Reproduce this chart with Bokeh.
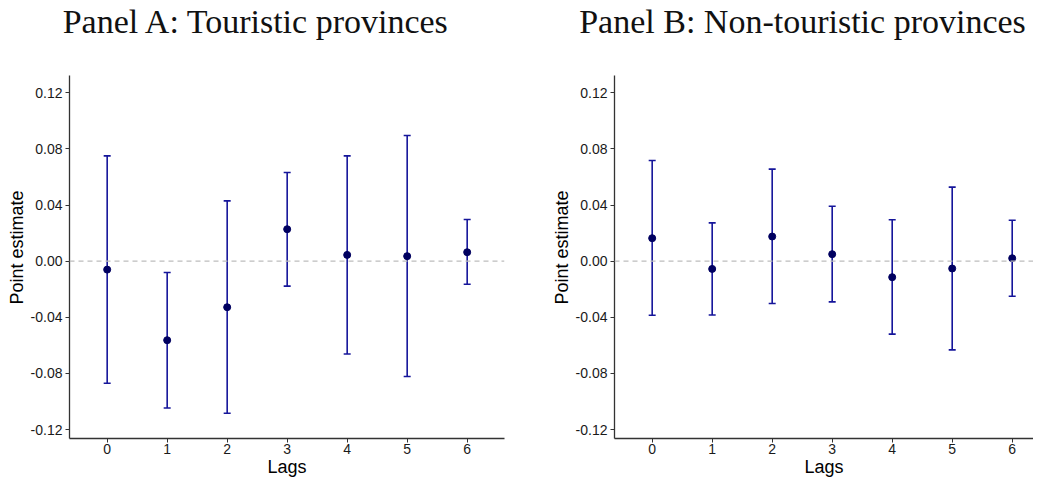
from bokeh.plotting import figure
from bokeh.layouts import row, column
from bokeh.models import (ColumnDataSource, Whisker, TeeHead, Span, FixedTicker,
                          PrintfTickFormatter, Range1d, Label)
from bokeh.embed import file_html
from bokeh.resources import INLINE

lags = [0, 1, 2, 3, 4, 5, 6]
a_est = [-0.0060, -0.0563, -0.0328, 0.0228, 0.0045, 0.0036, 0.0064]
a_lo = [-0.0870, -0.1046, -0.1084, -0.0178, -0.0661, -0.0822, -0.0164]
a_hi = [0.0751, -0.0081, 0.0430, 0.0632, 0.0751, 0.0896, 0.0297]
b_est = [0.0164, -0.0055, 0.0176, 0.0050, -0.0114, -0.0052, 0.0021]
b_lo = [-0.0385, -0.0383, -0.0302, -0.0290, -0.0520, -0.0632, -0.0250]
b_hi = [0.0718, 0.0273, 0.0656, 0.0392, 0.0295, 0.0528, 0.0292]
y_ticks = [-0.12, -0.08, -0.04, 0.0, 0.04, 0.08, 0.12]
titles = ["Panel A: Touristic provinces", "Panel B: Non-touristic provinces"]

BAR = "#15159a"
PT = "#000060"
H = 479
TITLE_H = 56
PLOT_H = H - TITLE_H
BOTTOM = 41
FRAME_H = PLOT_H - BOTTOM       # plot frame runs from the top of its canvas
PX_PER_UNIT = 1403.0            # vertical scale of the reference
ZERO_Y = 260.7 - TITLE_H        # pixel row of y = 0 inside the plot canvas
Y0 = -(FRAME_H - ZERO_Y) / PX_PER_UNIT
Y1 = ZERO_Y / PX_PER_UNIT
AXIS_TOP = 0.1323               # where the reference's y axis line ends
WA, WB = 512, 521


def title_fig(text, width, cx):
    t = figure(width=width, height=TITLE_H, output_backend="svg", toolbar_location=None,
               x_range=Range1d(0, width), y_range=Range1d(0, TITLE_H),
               x_axis_type=None, y_axis_type=None, min_border=0)
    t.outline_line_color = None
    t.xgrid.grid_line_color = None
    t.ygrid.grid_line_color = None
    t.add_layout(Label(x=cx, y=TITLE_H - 21, x_units="screen", y_units="screen",
                       text=text, text_font="Liberation Serif", text_font_size="34px",
                       text_color="#111111", text_align="center",
                       text_baseline="alphabetic"))
    return t


def panel(est, lo, hi, width, border_left, border_right, x0, x1):
    p = figure(width=width, height=PLOT_H, output_backend="svg", toolbar_location=None,
               x_range=Range1d(x0, x1), y_range=Range1d(Y0, Y1),
               min_border_left=border_left, min_border_right=border_right,
               min_border_top=0, min_border_bottom=BOTTOM)
    p.outline_line_color = None
    p.xgrid.grid_line_color = None
    p.ygrid.grid_line_color = None
    p.background_fill_color = "white"
    p.border_fill_color = "white"

    src = ColumnDataSource(dict(x=lags, est=est, lo=lo, hi=hi))
    p.add_layout(Span(location=0, dimension="width", line_color="#bdbdbd",
                      line_dash="5 4", line_width=1.2))
    w = Whisker(base="x", lower="lo", upper="hi", source=src, dimension="height",
                line_color=BAR, line_width=1.6,
                upper_head=TeeHead(size=7, line_color=BAR, line_width=1.6),
                lower_head=TeeHead(size=7, line_color=BAR, line_width=1.6))
    p.add_layout(w)
    p.scatter("x", "est", source=src, size=7, color=PT)

    for ax in (p.xaxis[0], p.yaxis[0]):
        ax.axis_line_color = "#333333"
        ax.axis_line_width = 1.3
        ax.major_tick_line_color = "#333333"
        ax.major_tick_out = 4
        ax.major_tick_in = 0
        ax.minor_tick_line_color = None
        ax.major_label_text_font = "Liberation Sans"
        ax.major_label_text_font_size = "14px"
        ax.major_label_text_color = "#1a1a1a"
        ax.axis_label_text_font = "Liberation Sans"
        ax.axis_label_text_font_size = "18px"
        ax.axis_label_text_font_style = "normal"
        ax.axis_label_text_color = "black"
    p.xaxis.major_label_standoff = 1
    p.xaxis.axis_label_standoff = 0
    p.yaxis.major_label_standoff = 3
    p.yaxis.axis_label_standoff = 1
    p.yaxis.bounds = (Y0, AXIS_TOP)
    p.xaxis.axis_label = "Lags"
    p.yaxis.axis_label = "Point estimate"
    p.xaxis.ticker = FixedTicker(ticks=lags)
    p.yaxis.ticker = FixedTicker(ticks=y_ticks)
    p.yaxis.formatter = PrintfTickFormatter(format="%.2f")
    return p


tA = title_fig(titles[0], WA, 256)
tB = title_fig(titles[1], WB, 802 - WA)
pA = panel(a_est, a_lo, a_hi, WA, 69, 8, -0.628, 6.622)
pB = panel(b_est, b_lo, b_hi, WB, 102, 0, -0.628, 6.355)
layout = column(row(tA, tB), row(pA, pB))

open("out.html", "w").write(file_html(layout, INLINE))
